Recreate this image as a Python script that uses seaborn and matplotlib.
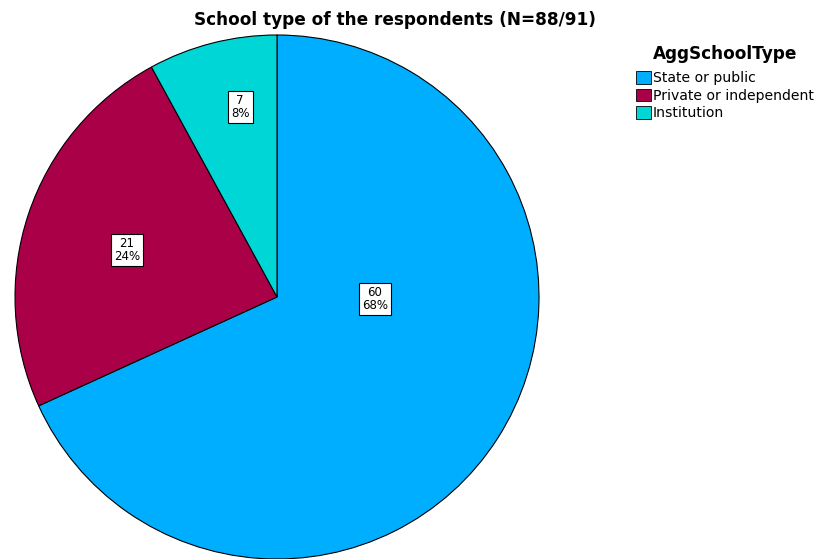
import matplotlib
matplotlib.use("Agg")
import matplotlib.pyplot as plt
import seaborn as sns

# Data
categories = ["State or public", "Private or independent", "Institution"]
counts = [60, 21, 7]
percents = ["68%", "24%", "8%"]
colors = ["#00AEFF", "#AA0048", "#00D6D6"]
# label anchor positions (in pie radius units, relative to centre)
label_pos = [(0.374, -0.008), (-0.573, 0.179), (-0.141, 0.725)]
title = "School type of the respondents (N=88/91)"
legend_title = "AggSchoolType"

sns.set_theme(style="white")
plt.rcParams['font.family'] = ['DejaVu Sans']
plt.rcParams['text.color'] = 'black'

W, H = 818, 559
fig = plt.figure(figsize=(W / 100, H / 100), dpi=100)
cx, cy, r = 277, 297, 262
ax = fig.add_axes([(cx - r) / W, (H - cy - r) / H, 2 * r / W, 2 * r / H])
wedges, _ = ax.pie(counts, colors=colors, startangle=90, counterclock=False,
                   radius=1, wedgeprops=dict(edgecolor="black", linewidth=0.8))
ax.set_xlim(-1, 1)
ax.set_ylim(-1, 1)
ax.set_aspect("equal")
ax.axis("off")

for (x, y), c, p in zip(label_pos, counts, percents):
    ax.text(x, y, f"{c}\n{p}", ha="center", va="center", fontsize=8.5,
            linespacing=0.95, color="black",
            bbox=dict(boxstyle="square,pad=0.28", facecolor="white",
                      edgecolor="black", linewidth=0.8))

fig.text(395 / W, 1 - 20 / H, title, ha="center", va="center",
         fontsize=12.2, fontweight="bold", color="black")

fig.text(653 / W, 1 - 54 / H, legend_title, ha="left", va="center",
         fontsize=12.2, fontweight="bold", color="black")

leg = fig.legend(wedges, categories, loc="upper left",
                 bbox_to_anchor=(636 / W, 1 - 71 / H), frameon=False,
                 fontsize=10.1, labelcolor="black",
                 handlelength=1.07, handleheight=1.0, handletextpad=0.15,
                 labelspacing=0.25, borderaxespad=0, borderpad=0)
for h in leg.legend_handles:
    h.set_edgecolor("black")
    h.set_linewidth(0.6)

fig.savefig("out.png", dpi=100)
